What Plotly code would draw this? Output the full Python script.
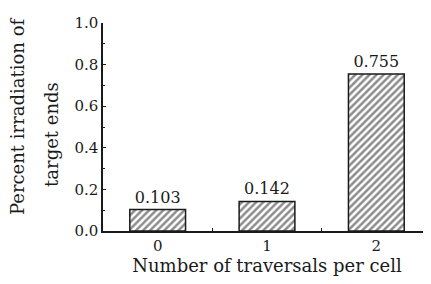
import plotly.graph_objects as go

categories = ["0", "1", "2"]
values = [0.103, 0.142, 0.755]
value_labels = ["0.103", "0.142", "0.755"]
y_tick_vals = [0.0, 0.2, 0.4, 0.6, 0.8, 1.0]
y_tick_text = ["0.0", "0.2", "0.4", "0.6", "0.8", "1.0"]

FONT = "DejaVu Serif"
INK = "#1a1a1a"

fig = go.Figure(
    go.Bar(
        x=categories,
        y=values,
        width=0.51,
        text=value_labels,
        textposition="outside",
        cliponaxis=False,
        textfont=dict(family=FONT, size=16, color=INK),
        marker=dict(
            color="white",
            line=dict(color=INK, width=1.5),
            pattern=dict(shape="/", fgcolor=INK, bgcolor="white", size=5, solidity=0.5),
        ),
    )
)

fig.update_layout(
    width=423,
    height=276,
    margin=dict(l=95, r=0, t=15, b=53),
    paper_bgcolor="white",
    plot_bgcolor="white",
    showlegend=False,
    font=dict(family=FONT, size=15, color=INK),
    xaxis=dict(
        type="category",
        range=[-0.5, 2.5],
        showline=True,
        linecolor=INK,
        linewidth=1.5,
        ticks="inside",
        ticklen=3,
        tickcolor=INK,
        tickson="boundaries",
        showgrid=False,
        tickfont=dict(family=FONT, size=15, color=INK),
        title=dict(text="Number of traversals per cell", font=dict(family=FONT, size=18, color=INK), standoff=4),
    ),
    yaxis=dict(
        range=[0, 1.0],
        tickvals=y_tick_vals,
        ticktext=y_tick_text,
        showline=True,
        linecolor=INK,
        linewidth=1.5,
        ticks="inside",
        ticklen=3,
        tickcolor=INK,
        showgrid=False,
        zeroline=False,
        minor=dict(dtick=0.1, ticks="inside", ticklen=2, tickcolor=INK, showgrid=False),
        tickfont=dict(family=FONT, size=15, color=INK),
    ),
    annotations=[
        dict(text="Percent irradiation of", x=-0.259, y=0.553, xref="paper", yref="paper",
             textangle=-90, showarrow=False, xanchor="center", yanchor="middle",
             font=dict(family=FONT, size=18, color=INK)),
        dict(text="target ends", x=-0.159, y=0.466, xref="paper", yref="paper",
             textangle=-90, showarrow=False, xanchor="center", yanchor="middle",
             font=dict(family=FONT, size=18, color=INK)),
    ],
)

fig.write_html("out.html")
